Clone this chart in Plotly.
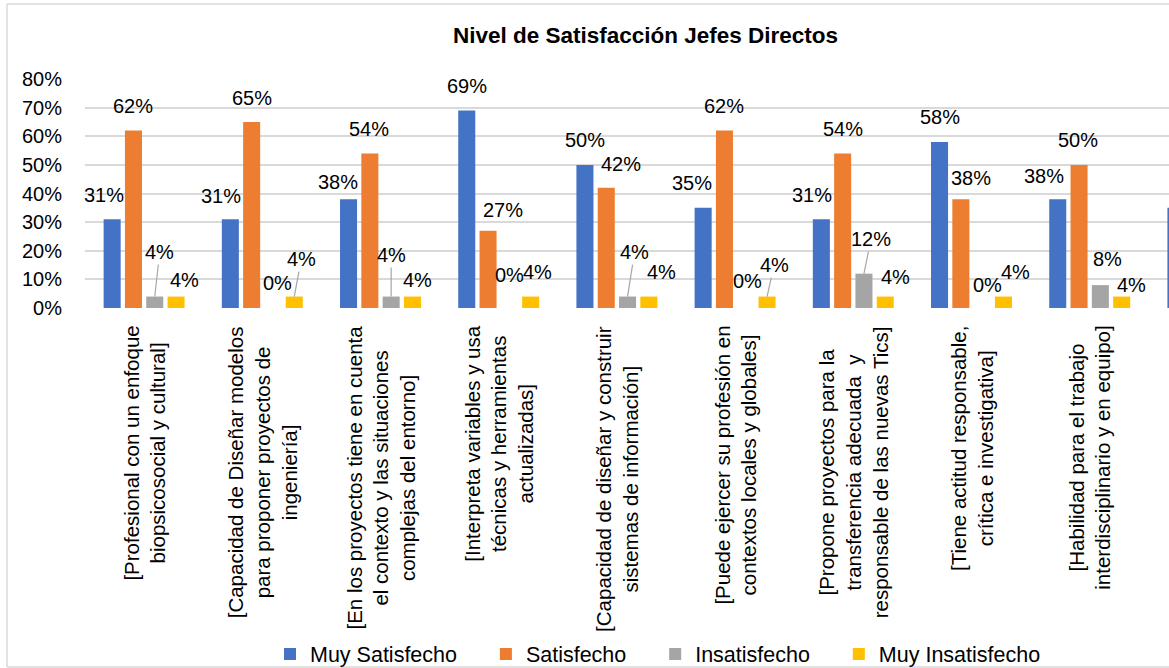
import plotly.graph_objects as go

# ---------------- data ----------------
categories = [
    "[Profesional con un enfoque<br>biopsicosocial y cultural]",
    "[Capacidad de Diseñar modelos<br>para proponer proyectos de<br>ingeniería]",
    "[En los proyectos tiene en cuenta<br>el contexto y las situaciones<br>complejas del entorno]",
    "[Interpreta variables y usa<br>técnicas y herramientas<br>actualizadas]",
    "[Capacidad de diseñar y construir<br>sistemas de información]",
    "[Puede ejercer su profesión en<br>contextos locales y globales]",
    "[Propone proyectos para la<br>transferencia adecuada  y<br>responsable de las nuevas Tics]",
    "[Tiene actitud responsable,<br>crítica e investigativa]",
    "[Habilidad para el trabajo<br>interdisciplinario y en equipo]",
    "",  # 10th category, cut off at the right edge of the picture
]
muy_satisfecho = [0.31, 0.31, 0.38, 0.69, 0.50, 0.35, 0.31, 0.58, 0.38, 0.35]
satisfecho = [0.62, 0.65, 0.54, 0.27, 0.42, 0.62, 0.54, 0.38, 0.50, None]
insatisfecho = [0.04, 0.00, 0.04, 0.00, 0.04, 0.00, 0.12, 0.00, 0.08, None]
muy_insatisfecho = [0.04, 0.04, 0.04, 0.04, 0.04, 0.04, 0.04, 0.04, 0.04, None]
series_names = ["Muy Satisfecho", "Satisfecho", "Insatisfecho", "Muy Insatisfecho"]
y_tick_values = [0, 0.1, 0.2, 0.3, 0.4, 0.5, 0.6, 0.7, 0.8]
title_text = "Nivel de Satisfacción Jefes Directos"

# ---------------- styles / layout ----------------
colors = ["#4472C4", "#ED7D31", "#A5A5A5", "#FFC000"]
W, H = 1169, 668
M_L, M_R, M_T, M_B = 85, 0, 79, 360
PX_PER_CAT = 118.2
BARGAP, BARGROUPGAP = 0.279, 0.2
FONT = "Liberation Sans, Arial, sans-serif"
LEGEND_PAD = "\u00a0" * 4  # extra room after each legend entry

# data-label placement (pixel offsets relative to each bar top): horizontal shift, gap bar-top -> text baseline
LABEL_DX = [
    [-8, -9, -11, 0, 0, -11, -9, 0, -14, -8],
    [0, 0, -1, 15, 15, 0, 0, 10, -1, 0],
    [5, 5, 0, 0, 7, 2, 7, 5, 7, 0],
    [8, 7, 5, 7, 13, 7, 10, 12, 10, 0],
]
LABEL_GAP = [
    [17, 16, 10, 17, 17, 17, 17, 17, 16, 16],
    [17, 16, 17, 13, 16, 17, 17, 14, 17, 0],
    [37, 18, 34, 26, 37, 20, 27, 16, 19, 0],
    [9, 30, 9, 17, 17, 24, 12, 17, 4, 0],
]
LEADER = {(2, 0), (2, 2), (2, 4), (2, 6), (3, 1), (3, 5)}
BASE_TO_CENTER = 7.5

series = [muy_satisfecho, satisfecho, insatisfecho, muy_insatisfecho]
xs = list(range(len(categories)))

fig = go.Figure()
for j, (name, vals) in enumerate(zip(series_names, series)):
    fig.add_trace(go.Bar(
        x=xs, y=vals, name=name + LEGEND_PAD,
        marker=dict(color=colors[j], line=dict(width=0)),
        hoverinfo="skip",
    ))

slot = (1 - BARGAP) / 4
annotations = []
for j, vals in enumerate(series):
    for i, v in enumerate(vals):
        if v is None:
            continue
        xc = i + (j - 1.5) * slot
        center = LABEL_GAP[j][i] + BASE_TO_CENTER
        txt = f"{v:.0%}"
        if (j, i) in LEADER:
            annotations.append(dict(
                x=xc, y=v, xref="x", yref="y", text=txt,
                showarrow=True, arrowhead=0, arrowwidth=1.2, arrowcolor="#A6A6A6",
                ax=LABEL_DX[j][i], ay=-center,
                font=dict(family=FONT, size=20, color="#000000"),
            ))
        else:
            annotations.append(dict(
                x=xc, y=v, xref="x", yref="y", text=txt, showarrow=False,
                xanchor="center", yanchor="middle",
                xshift=LABEL_DX[j][i], yshift=center,
                font=dict(family=FONT, size=20, color="#000000"),
            ))

# category labels (rotated, centred lines)
for i, c in enumerate(categories):
    if not c:
        continue
    annotations.append(dict(
        x=i, y=0, xref="x", yref="y", text=c, showarrow=False,
        textangle=-90, align="center", xanchor="center", yanchor="top",
        yshift=-16, font=dict(family=FONT, size=20.5, color="#000000"),
    ))

plot_w = W - M_L - M_R
plot_h = H - M_T - M_B


def px_to_paper_x(px):
    return (px - M_L) / plot_w


def px_to_paper_y(py):
    return (H - M_B - py) / plot_h


# chart-area border (left, top and bottom sides; the right side lies outside the picture)
bx0, bx1 = px_to_paper_x(7), px_to_paper_x(W)
by0, by1 = px_to_paper_y(667), px_to_paper_y(4)
border = dict(color="#D9D9D9", width=1.5)
shapes = [
    dict(type="line", xref="paper", yref="paper", x0=bx0, x1=bx0, y0=by0, y1=by1, line=border, layer="below"),
    dict(type="line", xref="paper", yref="paper", x0=bx0, x1=bx1, y0=by1, y1=by1, line=border, layer="below"),
    dict(type="line", xref="paper", yref="paper", x0=bx0, x1=bx1, y0=by0, y1=by0, line=border, layer="below"),
]

fig.update_layout(
    width=W, height=H,
    margin=dict(l=M_L, r=M_R, t=M_T, b=M_B, autoexpand=False),
    paper_bgcolor="#FFFFFF", plot_bgcolor="#FFFFFF",
    barmode="group", bargap=BARGAP, bargroupgap=BARGROUPGAP,
    title=dict(
        text=f"<b>{title_text}</b>", x=645.5 / W, xanchor="center", xref="container",
        y=1 - 35 / H, yanchor="middle", yref="container",
        font=dict(family=FONT, size=22.5, color="#000000"),
    ),
    xaxis=dict(
        range=[-0.5, -0.5 + plot_w / PX_PER_CAT], showticklabels=False,
        showgrid=False, zeroline=False, showline=False, ticks="",
    ),
    yaxis=dict(
        range=[0, 0.8], tickvals=y_tick_values, tickformat=".0%",
        showgrid=True, gridcolor="#D9D9D9", gridwidth=1.5, zeroline=False, showline=False,
        ticks="", ticklabelstandoff=22,
        tickfont=dict(family=FONT, size=20, color="#000000"),
    ),
    legend=dict(
        orientation="h", xref="container", yref="container",
        x=270 / W, xanchor="left", y=14 / H, yanchor="middle",
        font=dict(family=FONT, size=21.5, color="#000000"),
        bgcolor="rgba(0,0,0,0)",
    ),
    annotations=annotations,
    shapes=shapes,
    showlegend=True,
)

fig.write_html(
    "out.html",
    config={"displayModeBar": False},
    post_script="document.body.style.margin='0px';document.body.style.overflow='hidden';"
                "document.documentElement.style.overflow='hidden';",
)
